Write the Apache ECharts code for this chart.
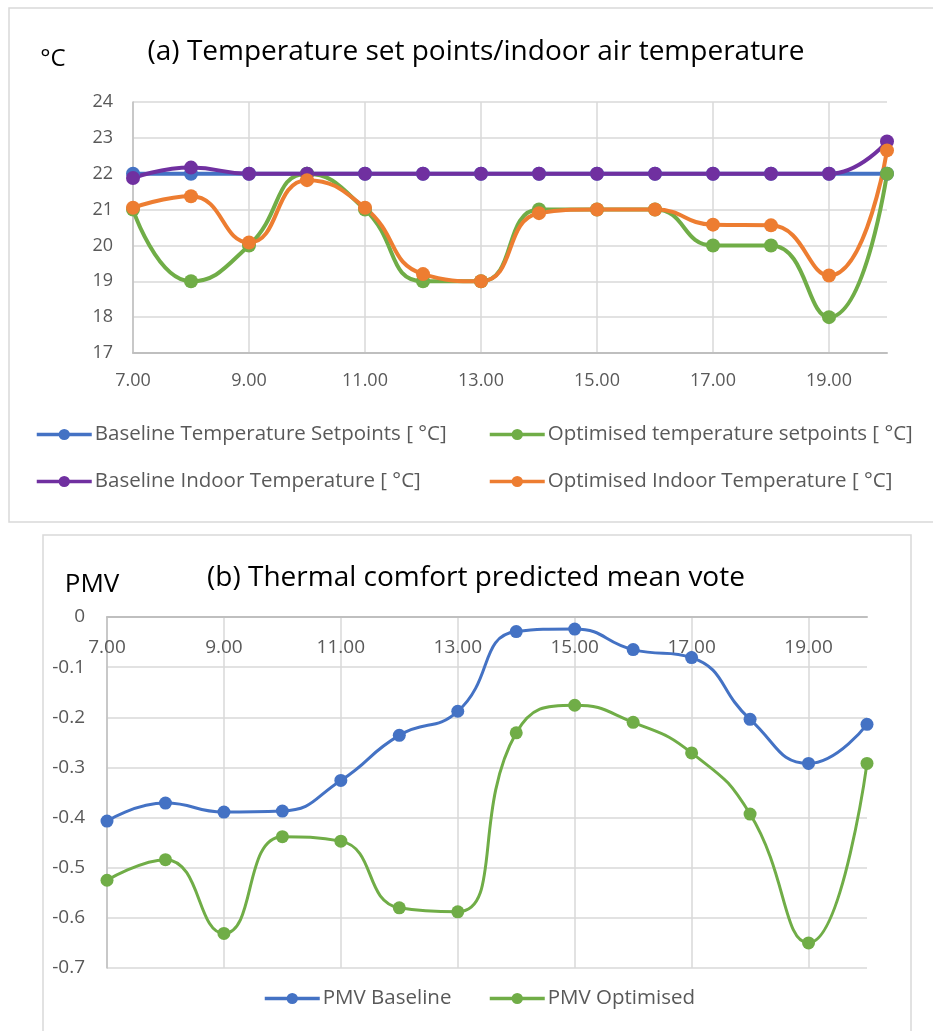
<!DOCTYPE html>
<html lang="en">
<head>
    <meta charset="UTF-8">
    <title>Temperature and PMV</title>
    <style>
        html, body { margin: 0; padding: 0; background: #fff; }
        #chartmain { width: 933px; height: 1031px; }
    </style>
</head>
<body>
    <div id="chartmain"></div>
    <script src="https://cdn.jsdelivr.net/npm/echarts@6/dist/echarts.min.js"></script>
    <script type="text/javascript">
        // hours of the day (x axis)
        var hours = [7, 8, 9, 10, 11, 12, 13, 14, 15, 16, 17, 18, 19, 20];

        // (a) temperatures [°C]
        var baseSetpoint = [22, 22, 22, 22, 22, 22, 22, 22, 22, 22, 22, 22, 22, 22];
        var optSetpoint = [21, 19, 20, 22, 21, 19, 19, 21, 21, 21, 20, 20, 18, 22];
        var baseIndoor = [21.88, 22.17, 22, 22, 22, 22, 22, 22, 22, 22, 22, 22, 22, 22.9];
        var optIndoor = [21.05, 21.37, 20.08, 21.82, 21.05, 19.2, 19.0, 20.9, 21.0, 21.0, 20.58, 20.56, 19.16, 22.65];

        // (b) PMV
        var pmvBase = [-0.407, -0.371, -0.389, -0.387, -0.326, -0.236, -0.188, -0.029, -0.024, -0.065, -0.081, -0.204, -0.292, -0.214];
        var pmvOpt = [-0.525, -0.484, -0.631, -0.438, -0.447, -0.580, -0.588, -0.231, -0.176, -0.210, -0.271, -0.393, -0.650, -0.292];

        var names = [
            'Baseline Temperature Setpoints [ °C]',
            'Optimised temperature setpoints [ °C]',
            'Baseline Indoor Temperature [ °C]',
            'Optimised Indoor Temperature [ °C]',
            'PMV Baseline',
            'PMV Optimised'
        ];

        var font = '"Open Sans", Lato, sans-serif';
        var grey = '#595959';
        var gridGrey = '#d9d9d9';
        var axisGrey = '#bfbfbf';

        var cats = hours.map(function (h) { return h.toFixed(2); });

        var lineSeries = function (name, data, color, xi, size, width) {
            return {
                name: name,
                type: 'line',
                xAxisIndex: xi,
                yAxisIndex: xi,
                smooth: true,
                symbol: 'circle',
                symbolSize: size,
                lineStyle: { color: color, width: width },
                itemStyle: { color: color },
                data: data
            };
        };

        var legendAt = function (name, left, top) {
            return {
                data: [name],
                left: left,
                top: top,
                padding: 0,
                itemWidth: 55,
                itemHeight: 14,
                lineStyle: { width: 3.5 },
                textStyle: { fontFamily: font, fontSize: 20.5, color: grey, padding: [0, 0, 0, -2] }
            };
        };

        var mychart = echarts.init(document.getElementById('chartmain'));
        var option = {
            animation: false,
            backgroundColor: '#fff',
            graphic: [
                { type: 'rect', shape: { x: 9, y: 8, width: 940, height: 514 }, style: { fill: 'none', stroke: gridGrey, lineWidth: 1.5 } },
                { type: 'rect', shape: { x: 43, y: 535, width: 868, height: 520 }, style: { fill: 'none', stroke: gridGrey, lineWidth: 1.5 } },
                { type: 'text', x: 476, y: 52, style: { text: '(a) Temperature set points/indoor air temperature', font: '28px ' + font, fill: '#000', textAlign: 'center', textVerticalAlign: 'middle' } },
                { type: 'text', x: 53, y: 59, style: { text: '°C', font: '24px ' + font, fill: '#000', textAlign: 'center', textVerticalAlign: 'middle' } },
                { type: 'text', x: 476, y: 578, style: { text: '(b) Thermal comfort predicted mean vote', font: '28px ' + font, fill: '#000', textAlign: 'center', textVerticalAlign: 'middle' } },
                { type: 'text', x: 92, y: 585, style: { text: 'PMV', font: '26px ' + font, fill: '#000', textAlign: 'center', textVerticalAlign: 'middle' } }
            ],
            legend: [
                legendAt(names[0], 35, 424),
                legendAt(names[1], 488, 424),
                legendAt(names[2], 35, 471),
                legendAt(names[3], 488, 471),
                legendAt(names[4], 263, 988),
                legendAt(names[5], 488, 988)
            ],
            grid: [
                { left: 133, top: 102, width: 754, height: 251 },
                { left: 107, top: 617, width: 760, height: 351 }
            ],
            xAxis: [{
                gridIndex: 0,
                type: 'category',
                boundaryGap: false,
                data: cats,
                axisLine: { lineStyle: { color: axisGrey, width: 2 } },
                axisTick: { show: false },
                axisLabel: { interval: 1, margin: 19, fontFamily: font, fontSize: 18, color: grey },
                splitLine: { show: true, interval: 1, lineStyle: { color: gridGrey, width: 1.5 } }
            }, {
                gridIndex: 1,
                type: 'category',
                position: 'top',
                boundaryGap: false,
                data: cats,
                axisLine: { lineStyle: { color: axisGrey, width: 2 } },
                axisTick: { show: false },
                axisLabel: { inside: true, interval: 1, margin: 21, fontFamily: font, fontSize: 19, color: grey },
                splitLine: { show: true, interval: 1, lineStyle: { color: gridGrey, width: 1.5 } }
            }],
            yAxis: [{
                gridIndex: 0,
                type: 'value',
                min: 17,
                max: 24,
                interval: 1,
                axisLine: { show: true, lineStyle: { color: axisGrey, width: 1.5 } },
                axisTick: { show: false },
                axisLabel: { margin: 20, fontFamily: font, fontSize: 18, color: grey },
                splitLine: { lineStyle: { color: gridGrey, width: 1.5 } }
            }, {
                gridIndex: 1,
                type: 'value',
                min: -0.7,
                max: 0,
                interval: 0.1,
                axisLine: { show: true, lineStyle: { color: axisGrey, width: 1.5 } },
                axisTick: { show: false },
                axisLabel: {
                    margin: 22, fontFamily: font, fontSize: 19, color: grey,
                    formatter: function (v) { var r = Math.round(v * 10) / 10; return r === 0 ? '0' : r.toFixed(1); }
                },
                splitLine: { lineStyle: { color: gridGrey, width: 1.5 } }
            }],
            series: [
                lineSeries(names[0], baseSetpoint, '#4472C4', 0, 14, 4),
                lineSeries(names[1], optSetpoint, '#70AD47', 0, 14, 4),
                lineSeries(names[2], baseIndoor, '#7030A0', 0, 14, 4),
                lineSeries(names[3], optIndoor, '#ED7D31', 0, 14, 4),
                lineSeries(names[4], pmvBase, '#4472C4', 1, 13, 3),
                lineSeries(names[5], pmvOpt, '#70AD47', 1, 13, 3)
            ]
        };
        mychart.setOption(option, true);
    </script>
</body>
</html>
